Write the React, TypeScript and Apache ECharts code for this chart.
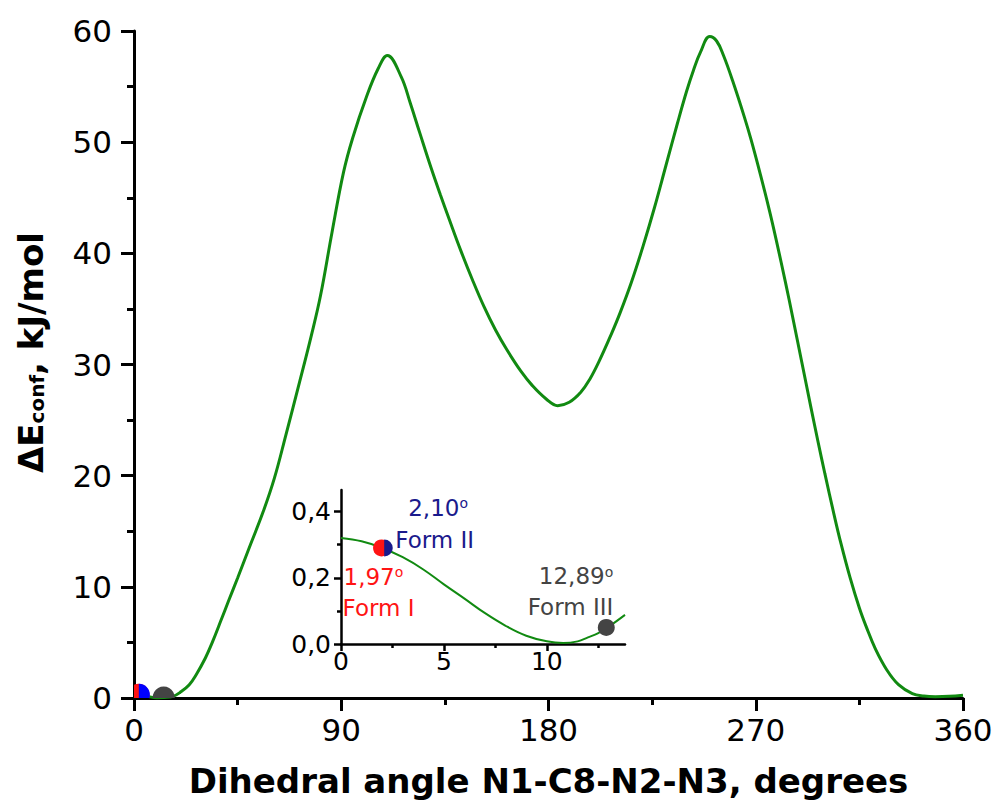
import React, { useEffect, useRef } from "react";
import * as echarts from "echarts";

// Main curve: dihedral angle (degrees) vs relative conformational energy (kJ/mol)
const angles = [
  0, 5, 10, 13, 17, 20, 24, 27, 31, 34, 38, 41, 45, 50, 56, 61, 66, 72, 77, 81, 86, 91, 95, 101, 106, 110,
  116, 120, 124, 129, 133, 137, 142, 147, 152, 157, 162, 168, 173, 179, 184, 189, 194, 198, 202, 207,
  211, 216, 221, 226, 231, 236, 240, 243, 246, 250, 253, 256, 260, 265, 268, 272, 276, 279, 283, 286, 290,
  294, 297, 300, 304, 307, 311, 315, 318, 322, 327, 332, 338, 343, 348, 354, 360,
];
const energies = [
  0.32, 0.18, 0.01, 0.05, 0.15, 0.5, 1.2, 2.1, 3.6, 5.0, 7.1, 8.7, 10.8, 13.5, 16.7, 19.8, 23.7, 28.5, 32.6,
  36.2, 41.9, 47.3, 50.4, 54.1, 56.6, 57.8, 55.9, 53.5, 50.9, 47.7, 45.3, 43.0, 40.2, 37.6, 35.2, 33.1,
  31.3, 29.4, 28.1, 26.9, 26.3, 26.6, 27.5, 28.7, 30.3, 32.6, 34.6, 37.4, 40.6, 44.1, 47.9, 51.7, 54.6, 56.5,
  58.1, 59.5, 59.1, 57.8, 55.5, 52.3, 50.2, 47.1, 43.8, 41.1, 37.3, 34.3, 30.2, 26.1, 23.1, 20.2, 16.5, 13.9,
  10.8, 8.1, 6.4, 4.4, 2.5, 1.2, 0.4, 0.18, 0.12, 0.15, 0.25,
];

// Inset: zoom on 0–13.8 degrees
const insetAngles = [0, 1, 2, 3, 4, 5, 6, 7, 8, 9, 10, 10.8, 11.5, 12, 12.5, 13, 13.8];
const insetEnergies = [
  0.32, 0.31, 0.29, 0.262, 0.225, 0.18, 0.137, 0.093, 0.055, 0.025, 0.008, 0.003, 0.008, 0.02, 0.033, 0.052, 0.088,
];

// Crystal forms
const formNames = ["Form I", "Form II", "Form III"];
const formAngles = [1.97, 2.1, 12.89];
const formEnergies = [0.29, 0.29, 0.05];

// Tick values
const mainXTicks = [0, 90, 180, 270, 360];
const mainYTicks = [0, 10, 20, 30, 40, 50, 60];
const insetXTicks = [0, 5, 10];
const insetXMinorTicks = [2.5, 7.5, 12.5];
const insetYTicks = [0, 0.2, 0.4];
const insetYMinorTicks = [0.1, 0.3];

const FONT = "'DejaVu Sans', sans-serif";
const GREEN = "#118a11";
const RED = "#ff1414";
const BLUE_MAIN = "#0000ff";
const BLUE_INSET = "#1a1a8c";
const GREY = "#444444";

export default function App() {
  const ref = useRef<HTMLDivElement>(null);

  useEffect(() => {
    if (!ref.current) return;
    const chart = echarts.init(ref.current, undefined, { renderer: "svg" });

    const formData = formAngles.map((a, i) => [a, formEnergies[i]]);
    const fmtAngle = (v: number) => v.toFixed(2).replace(".", ",");

    const axisLineStyle = { color: "#000", width: 3 };
    const insetLineStyle = { color: "#000", width: 2.5 };

    const option: any = {
      animation: false,
      backgroundColor: "#fff",
      grid: [
        { left: 134, top: 31, width: 829, height: 667 },
        { left: 341, top: 490, width: 284, height: 154 },
      ],
      xAxis: [
        {
          type: "value",
          gridIndex: 0,
          min: mainXTicks[0],
          max: mainXTicks[mainXTicks.length - 1],
          interval: mainXTicks[1] - mainXTicks[0],
          axisLine: { onZero: false, lineStyle: axisLineStyle },
          axisTick: { length: 13, lineStyle: { color: "#000", width: 3 } },
          minorTick: { show: true, splitNumber: 2, length: 7, lineStyle: { color: "#000", width: 3 } },
          splitLine: { show: false },
          axisLabel: { fontSize: 31, color: "#000", margin: 16, fontFamily: FONT },
          name: "Dihedral angle N1-C8-N2-N3, degrees",
          nameLocation: "middle",
          nameGap: 66,
          nameTextStyle: { fontSize: 34, fontWeight: "bold", color: "#000", fontFamily: FONT },
        },
        {
          type: "value",
          gridIndex: 1,
          min: 0,
          max: 13.8,
          axisLine: { onZero: false, lineStyle: insetLineStyle },
          axisTick: { customValues: insetXTicks, length: 7, lineStyle: { color: "#000", width: 2.5 } },
          splitLine: { show: false },
          axisLabel: { customValues: insetXTicks, fontSize: 25, color: "#000", margin: 5, fontFamily: FONT },
        },
        {
          type: "value",
          gridIndex: 1,
          position: "bottom",
          min: 0,
          max: 13.8,
          axisLine: { show: false, onZero: false },
          axisTick: { customValues: insetXMinorTicks, length: 4, lineStyle: { color: "#000", width: 2.5 } },
          splitLine: { show: false },
          axisLabel: { show: false },
        },
      ],
      yAxis: [
        {
          type: "value",
          gridIndex: 0,
          min: mainYTicks[0],
          max: mainYTicks[mainYTicks.length - 1],
          interval: mainYTicks[1] - mainYTicks[0],
          axisLine: { show: true, onZero: false, lineStyle: axisLineStyle },
          axisTick: { show: true, length: 13, lineStyle: { color: "#000", width: 3 } },
          minorTick: { show: true, splitNumber: 2, length: 7, lineStyle: { color: "#000", width: 3 } },
          splitLine: { show: false },
          axisLabel: { fontSize: 31, color: "#000", margin: 22, fontFamily: FONT },
          name: "{b|ΔE}{s|conf}{b|, kJ/mol}",
          nameLocation: "middle",
          nameGap: 86,
          nameTextStyle: {
            color: "#000",
            fontFamily: FONT,
            padding: [0, 0, 0, 24],
            rich: {
              b: { fontSize: 34, fontWeight: "bold", fontFamily: FONT, color: "#000" },
              s: { fontSize: 20, fontWeight: "bold", fontFamily: FONT, color: "#000", padding: [12, 0, 0, 0] },
            },
          },
        },
        {
          type: "value",
          gridIndex: 1,
          min: 0,
          max: 0.465,
          axisLine: { show: true, onZero: false, lineStyle: insetLineStyle },
          axisTick: { show: true, customValues: insetYTicks, length: 7, lineStyle: { color: "#000", width: 2.5 } },
          splitLine: { show: false },
          axisLabel: {
            customValues: insetYTicks,
            fontSize: 25,
            color: "#000",
            margin: 10,
            fontFamily: FONT,
            formatter: (v: number) => v.toFixed(1).replace(".", ","),
          },
        },
        {
          type: "value",
          gridIndex: 1,
          position: "left",
          min: 0,
          max: 0.465,
          axisLine: { show: false, onZero: false },
          axisTick: { show: true, customValues: insetYMinorTicks, length: 4, lineStyle: { color: "#000", width: 2.5 } },
          splitLine: { show: false },
          axisLabel: { show: false },
        },
      ],
      series: [
        {
          type: "line",
          xAxisIndex: 0,
          yAxisIndex: 0,
          data: angles.map((a, i) => [a, energies[i]]),
          smooth: 0.4,
          showSymbol: false,
          lineStyle: { color: GREEN, width: 3 },
          z: 2,
        },
        {
          type: "custom",
          xAxisIndex: 0,
          yAxisIndex: 0,
          clip: true,
          z: 3,
          data: formData,
          renderItem: (params: any, api: any) => {
            const idx = params.dataIndex;
            const p = api.coord([api.value(0), api.value(1)]);
            const r = 11;
            if (idx === 1) {
              return {
                type: "sector",
                shape: { cx: p[0], cy: p[1], r, r0: 0, startAngle: -Math.PI / 2, endAngle: Math.PI / 2, clockwise: true },
                style: { fill: BLUE_MAIN },
              };
            }
            return { type: "circle", shape: { cx: p[0], cy: p[1], r }, style: { fill: idx === 0 ? RED : GREY } };
          },
        },
        {
          type: "line",
          xAxisIndex: 1,
          yAxisIndex: 1,
          data: insetAngles.map((a, i) => [a, insetEnergies[i]]),
          smooth: 0.4,
          showSymbol: false,
          lineStyle: { color: GREEN, width: 2 },
          z: 2,
        },
        {
          type: "custom",
          xAxisIndex: 1,
          yAxisIndex: 1,
          z: 3,
          data: formData,
          renderItem: (params: any, api: any) => {
            const idx = params.dataIndex;
            const p = api.coord([api.value(0), api.value(1)]);
            const r = 8.5;
            const color = idx === 0 ? RED : idx === 1 ? BLUE_INSET : GREY;
            const degText = `{v|${fmtAngle(formAngles[idx])}}{d|o}`;
            const rich = {
              v: { fontSize: 23, fontFamily: FONT },
              d: { fontSize: 14, fontFamily: FONT, verticalAlign: "top" },
            };
            let marker: any;
            let t1: any;
            let t2: any;
            if (idx === 1) {
              marker = {
                type: "sector",
                shape: { cx: p[0], cy: p[1], r, r0: 0, startAngle: -Math.PI / 2, endAngle: Math.PI / 2, clockwise: true },
                style: { fill: color },
              };
              t1 = { x: p[0] + 24, y: p[1] - 40, align: "left" };
              t2 = { x: p[0] + 11, y: p[1] - 8, align: "left" };
            } else if (idx === 0) {
              marker = { type: "circle", shape: { cx: p[0], cy: p[1], r }, style: { fill: color } };
              t1 = { x: p[0] - 38, y: p[1] + 29, align: "left" };
              t2 = { x: p[0] - 39, y: p[1] + 60, align: "left" };
            } else {
              marker = { type: "circle", shape: { cx: p[0], cy: p[1], r }, style: { fill: color } };
              t1 = { x: p[0] + 7, y: p[1] - 51, align: "right" };
              t2 = { x: p[0] + 7, y: p[1] - 20, align: "right" };
            }
            return {
              type: "group",
              children: [
                marker,
                {
                  type: "text",
                  x: t1.x,
                  y: t1.y,
                  style: {
                    text: degText,
                    rich,
                    fill: color,
                    fontSize: 23,
                    fontFamily: FONT,
                    align: t1.align,
                    verticalAlign: "middle",
                  },
                },
                {
                  type: "text",
                  x: t2.x,
                  y: t2.y,
                  style: {
                    text: formNames[idx],
                    fill: color,
                    fontSize: 23,
                    fontFamily: FONT,
                    align: t2.align,
                    verticalAlign: "middle",
                  },
                },
              ],
            };
          },
        },
      ],
    };

    chart.setOption(option);
    return () => chart.dispose();
  }, []);

  return (
    <div
      ref={ref}
      style={{ position: "fixed", left: 0, top: 0, width: 999, height: 810, background: "#fff" }}
    />
  );
}
